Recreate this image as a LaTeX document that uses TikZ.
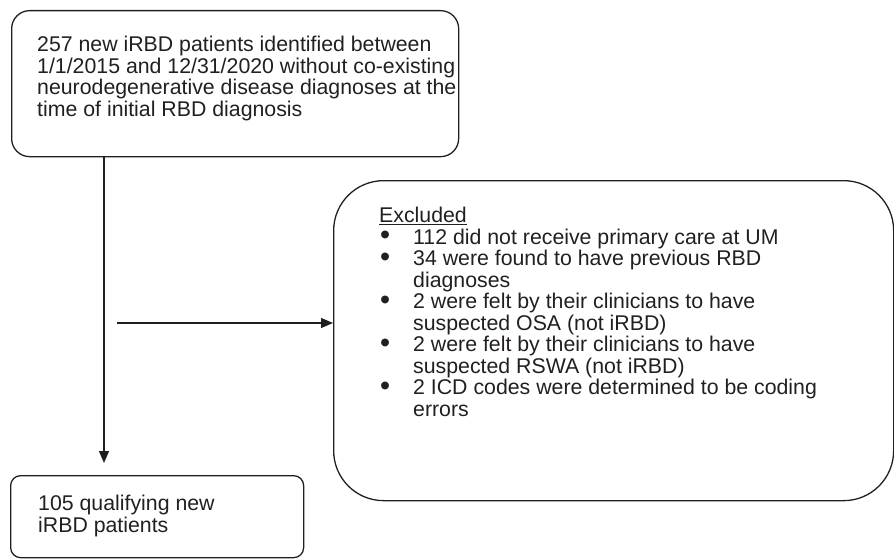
\documentclass[tikz,border=0pt]{standalone}
\usepackage{fontspec}
\setmainfont{Liberation Sans}
\usetikzlibrary{arrows.meta}
\definecolor{ink}{HTML}{231F20}
\tikzset{
  boxshape/.style={draw=ink, line width=1.3pt, inner sep=0pt, anchor=north west},
  txt/.style={inner sep=0pt, anchor=north west, align=left, text=ink,
    font=\fontsize{21.3}{21.5}\selectfont},
  arr/.style={draw=ink, line width=1.3pt, -{Triangle[width=10pt,length=12pt]}}
}
\newcommand{\bul}{\makebox[34pt][l]{\hspace*{1pt}\raisebox{-0.5pt}{\scalebox{1.35}{\textbullet}}}}
\newcommand{\ind}{\makebox[34pt]{}}
\begin{document}
\begin{tikzpicture}[x=1pt,y=-1pt]
\useasboundingbox (0,0) rectangle (894,559);
\node[boxshape, minimum width=447pt, minimum height=146pt, rounded corners=18pt] (top) at (11,10) {};
\node[txt] (toptxt) at (37,36) {257 new iRBD patients identified between\\1/1/2015 and 12/31/2020 without co-existing\\neurodegenerative disease diagnoses at the\\time of initial RBD diagnosis};
\node[boxshape, minimum width=293pt, minimum height=82pt, rounded corners=10pt] (bot) at (10,475) {};
\node[txt] (bottxt) at (38,495) {105 qualifying new\\iRBD patients};
\node[boxshape, minimum width=560pt, minimum height=320pt, rounded corners=50pt] (ex) at (333,180) {};
\node[txt] (extxt) at (379,207) {\underline{Excluded}\\
\bul 112 did not receive primary care at UM\\
\bul 34 were found to have previous RBD\\
\ind diagnoses\\
\bul 2 were felt by their clinicians to have\\
\ind suspected OSA (not iRBD)\\
\bul 2 were felt by their clinicians to have\\
\ind suspected RSWA (not iRBD)\\
\bul 2 ICD codes were determined to be coding\\
\ind errors};
\coordinate (vx) at (104,0);
\coordinate (hs) at (117,323);
\draw[arr, shorten >=12pt] (top.south -| vx) -- (bot.north -| vx);
\draw[arr] (hs) -- (hs -| ex.west);
\end{tikzpicture}
\end{document}
